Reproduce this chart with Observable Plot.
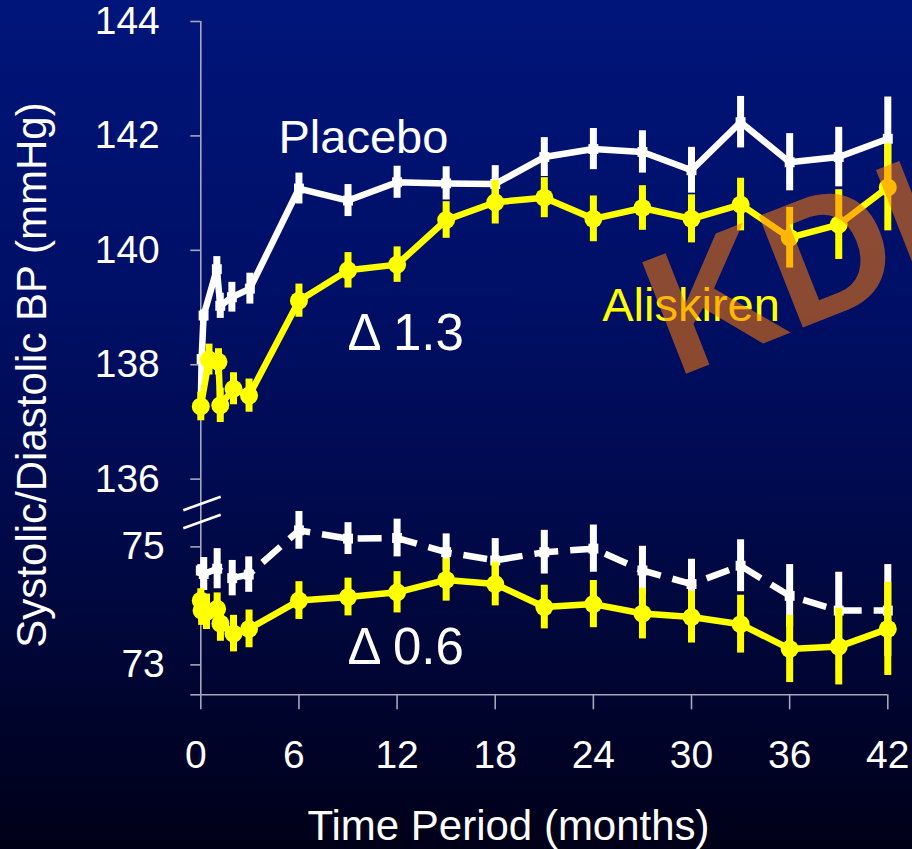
<!DOCTYPE html>
<html><head><meta charset="utf-8">
<script src="https://cdn.jsdelivr.net/npm/d3@7"></script>
<script src="https://cdn.jsdelivr.net/npm/@observablehq/plot@0.6"></script>
<style>
html,body{margin:0;padding:0;overflow:hidden;background:#000018;}
#chart{width:912px;height:849px;}
</style></head><body><div id="chart"></div>
<script>
// ---------- data ----------
const placeboSysMonths = [0, 0.05, 0.17, 0.98, 1.19, 1.9, 3, 6, 9, 12, 15, 18, 21, 24, 27, 30, 33, 36, 39, 42];
const placeboSys       = [137.3, 138.1, 138.86, 139.67, 139.03, 139.18, 139.33, 141.08, 140.87, 141.19, 141.17, 141.16, 141.63, 141.77, 141.72, 141.40, 142.24, 141.54, 141.63, 141.95];
const placeboSysErr    = [0, 0, 0.1, 0.22, 0.22, 0.26, 0.27, 0.27, 0.28, 0.28, 0.29, 0.32, 0.34, 0.36, 0.37, 0.40, 0.45, 0.50, 0.52, 0.73];

const aliskirenSysMonths = [0, 0.5, 1.08, 1.19, 2.0, 2.95, 6, 9, 12, 15, 18, 21, 24, 27, 30, 33, 36, 39, 42];
const aliskirenSys       = [137.27, 138.09, 138.05, 137.29, 137.58, 137.46, 139.12, 139.65, 139.75, 140.53, 140.84, 140.92, 140.55, 140.74, 140.55, 140.80, 140.22, 140.45, 141.10];
const aliskirenSysErr    = [0.25, 0.27, 0.23, 0.3, 0.28, 0.29, 0.29, 0.31, 0.31, 0.32, 0.38, 0.35, 0.40, 0.39, 0.42, 0.46, 0.53, 0.61, 0.76];

const placeboDiaMonths = [0, 0.18, 1.0, 1.92, 2.93, 6, 9, 12, 15, 18, 21, 24, 27, 30, 33, 36, 39, 42];
const placeboDia       = [74.6, 74.54, 74.63, 74.47, 74.53, 75.28, 75.14, 75.15, 74.91, 74.77, 74.91, 74.97, 74.60, 74.37, 74.68, 74.17, 73.92, 73.92];
const placeboDiaErr    = [0.1, 0.28, 0.34, 0.30, 0.30, 0.32, 0.27, 0.32, 0.31, 0.37, 0.37, 0.40, 0.41, 0.42, 0.44, 0.53, 0.65, 0.78];

const aliskirenDiaMonths = [0, 0.05, 0.35, 1.0, 1.2, 2.0, 2.95, 6, 9, 12, 15, 18, 21, 24, 27, 30, 33, 36, 39, 42];
const aliskirenDia       = [74.09, 73.92, 73.9, 73.95, 73.7, 73.53, 73.61, 74.09, 74.15, 74.23, 74.44, 74.37, 73.98, 74.03, 73.87, 73.81, 73.69, 73.27, 73.31, 73.61];
const aliskirenDiaErr    = [0.2, 0.25, 0.3, 0.27, 0.3, 0.31, 0.32, 0.32, 0.32, 0.35, 0.36, 0.37, 0.37, 0.40, 0.43, 0.44, 0.49, 0.57, 0.65, 0.79];

const xTicks = [0, 6, 12, 18, 24, 30, 36, 42];
const sysTicks = [136, 138, 140, 142, 144];
const diaTicks = [73, 75];

const seriesLabels = ["Placebo", "Aliskiren"];
const deltaLabels = ["Δ 1.3", "Δ 0.6"];
const xTitle = "Time Period (months)";
const yTitle = "Systolic/Diastolic BP (mmHg)";
const watermark = "KDIGO";

// ---------- broken axis: diastolic values are placed below the systolic range ----------
const Y_MIN = 132.23, Y_MAX = 144;
const DIA_BASE = 134.816, DIA_K = 1.0315;   // plotted position of 75 mmHg, and relative scale
const dia = d => DIA_BASE + (d - 75) * DIA_K;

function rows(months, vals, errs, f) {
  return months.map((m, i) => ({m, v: f(vals[i]), lo: f(vals[i] - errs[i]), hi: f(vals[i] + errs[i])}));
}
const id = d => d;
const pSys = rows(placeboSysMonths, placeboSys, placeboSysErr, id);
const aSys = rows(aliskirenSysMonths, aliskirenSys, aliskirenSysErr, id);
const pDia = rows(placeboDiaMonths, placeboDia, placeboDiaErr, dia);
const aDia = rows(aliskirenDiaMonths, aliskirenDia, aliskirenDiaErr, dia);

const yTickPos = [Y_MIN, ...diaTicks.map(dia), ...sysTicks];
const diaLabel = new Map(diaTicks.map(d => [dia(d), String(d)]));

const AX = "#a6a6bc", YEL = "#ffff00", WH = "#ffffff";
const FONT = "'Liberation Sans', Arial, Helvetica, sans-serif";

const plot = Plot.plot({
  width: 912, height: 849,
  marginLeft: 200.3, marginRight: 24.7, marginTop: 21, marginBottom: 154.7,
  x: {domain: [0, 42]},
  y: {domain: [Y_MIN, Y_MAX]},
  style: {background: "linear-gradient(to bottom, #00157a 0%, #000f66 35%, #000a4c 60%, #000018 100%)", color: "white", fontFamily: FONT, overflow: "hidden"},
  marks: [
    // axes
    Plot.ruleX([0], {stroke: AX, strokeWidth: 1.6}),
    Plot.ruleY([Y_MIN], {stroke: AX, strokeWidth: 1.6}),
    Plot.axisY({ticks: yTickPos, tickSize: 10, tickFormat: () => "", stroke: AX, strokeWidth: 1.6, label: null}),
    Plot.axisY({ticks: sysTicks, tickSize: 0, tickPadding: 41, tickFormat: d => String(d), fill: "white", fontSize: 39, label: null}),
    Plot.axisY({ticks: diaTicks.map(dia), tickSize: 0, tickPadding: 36, tickFormat: d => diaLabel.get(d), fill: "white", fontSize: 39, label: null}),
    Plot.axisX({ticks: xTicks, tickSize: 15, tickFormat: () => "", stroke: AX, strokeWidth: 1.6, label: null}),
    Plot.axisX({ticks: xTicks.filter(d => d >= 10), tickSize: 0, tickPadding: 45.7, fill: "white", fontSize: 39, label: null}),
    Plot.axisX({ticks: xTicks.filter(d => d < 10), tickSize: 0, tickPadding: 45.7, dx: -5, fill: "white", fontSize: 39, label: null}),

    // placebo systolic
    Plot.ruleX(pSys, {x: "m", y1: "lo", y2: "hi", stroke: WH, strokeWidth: 7}),
    Plot.line(pSys, {x: "m", y: "v", stroke: WH, strokeWidth: 6.5}),
    Plot.dot(pSys, {x: "m", y: "v", symbol: "square", r: 5.6, fill: WH}),
    // placebo diastolic
    Plot.ruleX(pDia, {x: "m", y1: "lo", y2: "hi", stroke: WH, strokeWidth: 7}),
    Plot.line(pDia, {x: "m", y: "v", stroke: WH, strokeWidth: 6.5, strokeDasharray: "24,12", strokeLinecap: "butt", strokeLinejoin: "miter"}),
    Plot.dot(pDia, {x: "m", y: "v", symbol: "square", r: 5.6, fill: WH}),
    // aliskiren systolic
    Plot.ruleX(aSys, {x: "m", y1: "lo", y2: "hi", stroke: YEL, strokeWidth: 7}),
    Plot.line(aSys, {x: "m", y: "v", stroke: YEL, strokeWidth: 6.5}),
    Plot.dot(aSys, {x: "m", y: "v", r: 9, fill: YEL}),
    // aliskiren diastolic
    Plot.ruleX(aDia, {x: "m", y1: "lo", y2: "hi", stroke: YEL, strokeWidth: 7}),
    Plot.line(aDia, {x: "m", y: "v", stroke: YEL, strokeWidth: 6.5}),
    Plot.dot(aDia, {x: "m", y: "v", r: 9, fill: YEL}),

    // annotations
    Plot.text([seriesLabels[0]], {x: 4.75, y: 141.70, textAnchor: "start", lineAnchor: "bottom", fill: WH, fontSize: 47}),
    Plot.text([seriesLabels[1]], {x: 24.54, y: 138.77, textAnchor: "start", lineAnchor: "bottom", fill: YEL, fontSize: 47}),
    Plot.text([deltaLabels[0]], {x: 8.97, y: 138.25, textAnchor: "start", lineAnchor: "bottom", fill: WH, fontSize: 51}),
    Plot.text([deltaLabels[1]], {x: 8.97, y: 132.77, textAnchor: "start", lineAnchor: "bottom", fill: WH, fontSize: 51}),

    // watermark
    Plot.text([watermark], {x: 29.0, y: 137.77, textAnchor: "start", lineAnchor: "bottom", rotate: -21.5, fill: "rgb(254,123,8)", fillOpacity: 0.55, fontSize: 174, fontWeight: "bold"})
  ]
});

const sx = plot.scale("x"), sy = plot.scale("y");
const svg = d3.select(plot);

// axis break marks "//" between 136 and 75
const bx = sx.apply(0) + 1.7;
const by = (sy.apply(136) + sy.apply(dia(75))) / 2;
[-9, 9].forEach(off => {
  svg.append("line")
    .attr("x1", bx - 18.7).attr("y1", by + off + 6.7)
    .attr("x2", bx + 18.7).attr("y2", by + off - 6.7)
    .attr("stroke", "white").attr("stroke-width", 2.6);
});

// axis titles
svg.append("text")
  .attr("transform", `translate(46,375) rotate(-90)`)
  .attr("text-anchor", "middle")
  .attr("fill", "white").attr("font-size", 42).attr("font-family", FONT)
  .text(yTitle);
svg.append("text")
  .attr("x", 508.5).attr("y", 839.5)
  .attr("text-anchor", "middle")
  .attr("fill", "white").attr("font-size", 42).attr("font-family", FONT)
  .text(xTitle);

document.getElementById("chart").appendChild(plot);
</script></body></html>
